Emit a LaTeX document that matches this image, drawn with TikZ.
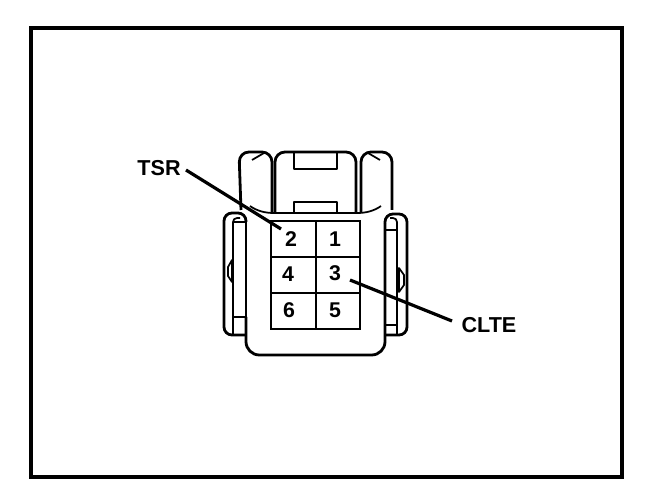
\documentclass[tikz,border=0pt]{standalone}
\usepackage{fontspec}
\setmainfont{Liberation Sans}
\tikzset{
 thick line/.style={line width=2.1pt,black,line join=round},
 thin line/.style={line width=1.3pt,black,line join=round},
 lead/.style={line width=2.4pt,black},
 pin/.style={font=\fontsize{16}{18}\selectfont\bfseries,inner sep=0pt,text=black},
 lbl/.style={font=\fontsize{16.2}{18}\selectfont\bfseries,inner sep=0pt,text=black}
}
\begin{document}
\begin{tikzpicture}[x=0.75pt,y=-0.75pt]
\useasboundingbox (0,0) rectangle (672,502);
\fill[white] (0,0) rectangle (672,502);
\draw[line width=2.4pt] (31,28) rectangle (622,477);
% upper tabs
\draw[thick line,rounded corners=7.5pt] (241,210) -- (239,152) -- (272,152) -- (272,213);
\draw[thick line,rounded corners=7.5pt] (275,213) -- (275,152) -- (356,152) -- (356,213);
\draw[thick line,rounded corners=7.5pt] (361,213) -- (361,152) -- (392,152) -- (392,210);
\draw[thin line] (252,160) -- (264,153);
\draw[thin line] (368,153) -- (380,160);
% notches
\draw[thick line] (294,153) -- (294,169) -- (337,169) -- (337,153);
\draw[thick line] (294,213) -- (294,202) -- (337,202) -- (337,213);
% curved collar
\draw[thin line] (250,206) .. controls (257,211) and (265,213) .. (274,213) -- (357,213) .. controls (366,213) and (374,211) .. (381,206);
% left clip
\draw[thick line,rounded corners=6pt] (246,335) -- (224,335) -- (224,213) -- (246,213) -- (246,222);
\draw[thin line,rounded corners=3pt] (233,335) -- (233,218) -- (240,218);
\draw[thin line] (233,222) -- (246,222);
\draw[thin line] (233,317) -- (246,317);
\draw[thin line] (246,222) -- (246,317);
\draw[thin line] (232,260) -- (228,267) -- (228,276) -- (232,282) -- cycle;
% right clip
\draw[thick line,rounded corners=6pt] (385,335) -- (407,335) -- (407,214) -- (385,214) -- (385,224);
\draw[thin line,rounded corners=3pt] (397,335) -- (397,218) -- (390,218);
\draw[thin line] (385,230) -- (397,230);
\draw[thin line] (385,325) -- (397,325);
\draw[thin line] (399,268) -- (404,275) -- (404,285) -- (399,292) -- cycle;
% body
\draw[thick line,rounded corners=10pt] (246,317) -- (246,355) -- (385,355) -- (385,224);
% grid
\draw[line width=1.4pt] (271,221) rectangle (360,329);
\draw[line width=1.2pt] (271,257) -- (360,257);
\draw[line width=1.2pt] (271,293) -- (360,293);
\draw[line width=1.5pt] (316,221) -- (316,329);
\node[pin] (p2) at (291,239) {2};
\node[pin] (p1) at (335,239) {1};
\node[pin] (p4) at (288,274) {4};
\node[pin] (p3) at (335,273) {3};
\node[pin] (p6) at (289,310) {6};
\node[pin] (p5) at (335,310) {5};
\node[lbl] (tsr) at (159,168) {TSR};
\node[lbl] (clte) at (489,325) {CLTE};
\coordinate (a) at (186,170);
\coordinate (b) at (281,229);
\coordinate (c) at (350,280);
\coordinate (d) at (452,321);
\draw[lead] (a) -- (b);
\draw[lead] (c) -- (d);
\end{tikzpicture}
\end{document}
